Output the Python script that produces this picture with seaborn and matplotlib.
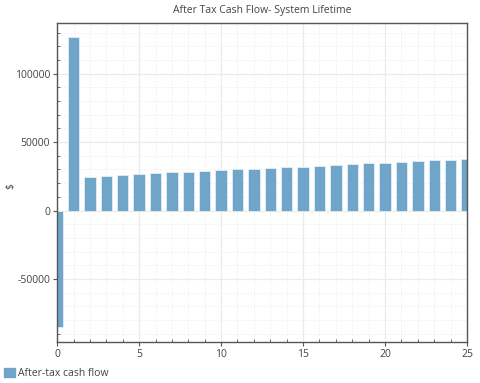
import matplotlib.pyplot as plt
import matplotlib.patches as mpatches
from matplotlib.ticker import MultipleLocator
import pandas as pd
import seaborn as sns

# Valores
years = list(range(0, 26))
cash_flow = [-85200, 126800, 24800, 25500, 26300, 26800, 27250, 28000, 28450, 28950,
             29450, 30150, 30650, 31150, 31650, 32100, 32850, 33350, 34050, 34550,
             35050, 35500, 36250, 36750, 37250, 37700]

df = pd.DataFrame({'year': years, 'value': cash_flow})

sns.set_theme(style='white')
plt.rcParams['font.family'] = ['Open Sans', 'DejaVu Sans']
plt.rcParams['axes.unicode_minus'] = False
text_color = '#444444'
bar_color = '#6fa5c8'

figure = plt.figure(figsize=(4.8, 3.83), dpi=100)
axes = figure.add_axes([0.119, 0.107, 0.854, 0.833])

sns.barplot(x='year', y='value', data=df, native_scale=True, width=0.7,
            color=bar_color, saturation=1, edgecolor='#e4eef5', linewidth=0.6, ax=axes)

axes.set_xlim(0, 25)
axes.set_ylim(-96000, 137000)
axes.xaxis.set_major_locator(MultipleLocator(5))
axes.xaxis.set_minor_locator(MultipleLocator(1))
axes.yaxis.set_major_locator(MultipleLocator(50000))
axes.yaxis.set_minor_locator(MultipleLocator(10000))

axes.grid(which='major', color='#ebebeb', linewidth=0.9, linestyle='-')
axes.grid(which='minor', color='#eeeeee', linewidth=0.6, linestyle=(0, (2, 2)))
axes.set_axisbelow(True)

axes.tick_params(which='major', direction='out', length=3, width=0.8, colors='#555555',
                 labelsize=7.5, labelcolor=text_color, pad=2,
                 bottom=True, left=True)
axes.tick_params(which='minor', direction='in', length=2, width=0.6, colors='#555555',
                 bottom=True, left=True)

for spine in axes.spines.values():
    spine.set_color('#555555')
    spine.set_linewidth(1.0)

axes.set_title('After Tax Cash Flow- System Lifetime', fontsize=7.5, color=text_color, pad=7)
axes.set_xlabel('')
axes.set_ylabel('$', fontsize=7.5, color=text_color)
axes.yaxis.set_label_coords(-0.1, 0.49)

handle = mpatches.Patch(color=bar_color, label='After-tax cash flow')
figure.legend(handles=[handle], loc='lower left', bbox_to_anchor=(0.0, 0.0), frameon=False,
              fontsize=7.5, labelcolor=text_color, handlelength=1.0, handleheight=1.0,
              handletextpad=0.3, borderaxespad=0.2, borderpad=0.2)

figure.savefig('out.png', dpi=100)
